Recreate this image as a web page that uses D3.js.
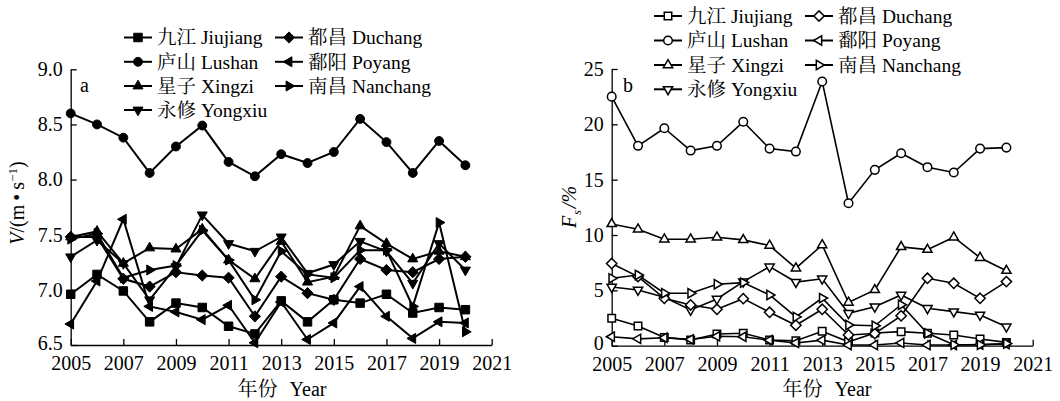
<!DOCTYPE html>
<html>
<head>
<meta charset="utf-8">
<script src="https://cdn.jsdelivr.net/npm/d3@7"></script>
<style>
  body { margin: 0; background: #fff; }
  svg text { font-family: "Liberation Serif", "Times New Roman", "Noto Serif CJK SC", "Noto Sans CJK SC", serif; fill: #000; }
</style>
</head>
<body>
<svg id="chart" width="1060" height="401"></svg>
<script>
// Years observed
const years = [2005, 2006, 2007, 2008, 2009, 2010, 2011, 2012, 2013, 2014, 2015, 2016, 2017, 2018, 2019, 2020];

// Stations and their marker shapes
const stations = ["九江 Jiujiang", "庐山 Lushan", "星子 Xingzi", "永修 Yongxiu", "都昌 Duchang", "鄱阳 Poyang", "南昌 Nanchang"];
const shapes   = ["square", "circle", "up", "down", "diamond", "left", "right"];

// (a) mean wind speed V, m/s
const speedJiujiang = [6.96, 7.14, 6.99, 6.71, 6.88, 6.84, 6.67, 6.60, 6.90, 6.71, 6.91, 6.88, 6.96, 6.79, 6.84, 6.82];
const speedLushan   = [8.60, 8.50, 8.38, 8.06, 8.30, 8.49, 8.16, 8.03, 8.23, 8.15, 8.25, 8.55, 8.34, 8.06, 8.35, 8.13];
const speedXingzi   = [7.48, 7.53, 7.24, 7.38, 7.37, 7.55, 7.27, 7.10, 7.44, 7.07, 7.12, 7.58, 7.42, 7.28, 7.35, 7.30];
const speedYongxiu  = [7.30, 7.45, 7.24, 6.91, 7.21, 7.68, 7.42, 7.35, 7.48, 7.15, 7.23, 7.44, 7.35, 7.06, 7.42, 7.18];
const speedDuchang  = [7.48, 7.48, 7.10, 7.03, 7.16, 7.13, 7.11, 6.76, 7.12, 6.97, 6.91, 7.28, 7.18, 7.16, 7.28, 7.30];
const speedPoyang   = [6.69, 7.08, 7.64, 6.85, 6.80, 6.73, 6.86, 6.52, 6.89, 6.55, 6.70, 7.03, 6.76, 6.56, 6.71, 6.70];
const speedNanchang = [7.46, 7.51, 7.11, 7.18, 7.22, 7.54, 7.27, 6.91, 7.35, 7.14, 7.11, 7.36, 7.36, 6.85, 7.61, 6.62];

// (b) frequency of strong wind Fs, %
const fsJiujiang = [2.48, 1.78, 0.75, 0.52, 1.06, 1.12, 0.52, 0.45, 1.30, 0.35, 1.15, 1.27, 1.12, 0.97, 0.60, 0.30];
const fsLushan   = [22.5, 18.06, 19.65, 17.63, 18.06, 20.23, 17.81, 17.54, 23.87, 12.87, 15.89, 17.39, 16.13, 15.65, 17.81, 17.90];
const fsXingzi   = [11.0, 10.52, 9.62, 9.62, 9.80, 9.56, 9.05, 7.0, 9.10, 3.90, 5.04, 8.93, 8.68, 9.80, 7.95, 6.78];
const fsYongxiu  = [5.30, 5.04, 4.37, 3.23, 4.22, 5.79, 7.14, 5.75, 6.05, 2.93, 3.52, 4.58, 3.38, 3.08, 2.78, 1.72];
const fsDuchang  = [7.42, 6.24, 4.28, 3.68, 3.29, 4.25, 3.02, 1.85, 3.29, 0.97, 1.10, 2.70, 6.09, 5.64, 4.28, 5.79];
const fsPoyang   = [0.81, 0.62, 0.72, 0.57, 0.85, 0.81, 0.50, 0.25, 0.50, 0.06, 0.06, 0.25, 0.06, 0.06, 0.10, 0.15];
const fsNanchang = [6.09, 6.39, 4.74, 4.74, 5.55, 5.70, 4.58, 2.60, 4.30, 1.87, 1.80, 3.70, 1.12, 0.08, 0.08, 0.20];

const speedSeries = [speedJiujiang, speedLushan, speedXingzi, speedYongxiu, speedDuchang, speedPoyang, speedNanchang];
const fsSeries    = [fsJiujiang, fsLushan, fsXingzi, fsYongxiu, fsDuchang, fsPoyang, fsNanchang];

// Axis ticks
const xTicks = [2005, 2007, 2009, 2011, 2013, 2015, 2017, 2019, 2021];
const speedTicks = [6.5, 7.0, 7.5, 8.0, 8.5, 9.0];
const fsTicks = [0, 5, 10, 15, 20, 25];

const FONT = 20;
const svg = d3.select("#chart");

// Marker paths centred on the origin
function markerPath(shape, filled) {
  const s = filled ? 1 : 0.92;
  switch (shape) {
    case "square":  return d3.symbol(d3.symbolSquare, (filled ? 72 : 56))();
    case "circle":  return d3.symbol(d3.symbolCircle, (filled ? 62 : 58))();
    case "diamond": { const r = 5.6 * s; return `M0,${-r}L${r},0L0,${r}L${-r},0Z`; }
    default: {
      const a = 5.8 * s;                // circumradius of triangle
      const pts = [[0, -a], [a * 0.866, a * 0.5], [-a * 0.866, a * 0.5]];
      const rot = { up: 0, right: 90, down: 180, left: 270 }[shape] * Math.PI / 180;
      return "M" + pts.map(([x, y]) => [x * Math.cos(rot) - y * Math.sin(rot), x * Math.sin(rot) + y * Math.cos(rot)].map(v => v.toFixed(2)).join(",")).join("L") + "Z";
    }
  }
}

function drawPanel(cfg) {
  const x = d3.scaleLinear().domain([2005, 2021]).range([cfg.left, cfg.right]);
  const y = d3.scaleLinear().domain(cfg.yDomain).range([cfg.bottom, cfg.top]);
  const g = svg.append("g");

  // x axis, ticks pointing inward
  const xAxis = d3.axisBottom(x).tickValues(xTicks).tickFormat(d3.format("d"))
    .tickSizeInner(-6).tickSizeOuter(0).tickPadding(11);
  const gx = g.append("g").attr("transform", `translate(0,${cfg.bottom})`).call(xAxis);
  gx.selectAll("text").attr("font-size", FONT);
  gx.selectAll("path,line").attr("stroke", "#000").attr("stroke-width", 1.3);

  // y axis, ticks pointing inward; the lowest label sits a touch higher to clear the year labels
  const yAxis = d3.axisLeft(y).tickValues(cfg.yTicks).tickFormat(cfg.yFormat)
    .tickSizeInner(-6).tickSizeOuter(0).tickPadding(8);
  const gy = g.append("g").attr("transform", `translate(${cfg.left},0)`).call(yAxis);
  gy.selectAll("text").attr("font-size", FONT)
    .attr("dy", (d, i) => i === 0 ? "0.2em" : "0.32em");
  gy.selectAll("path,line").attr("stroke", "#000").attr("stroke-width", 1.3);

  // series lines + markers
  const line = d3.line().x((d, i) => x(years[i])).y(d => y(d));
  cfg.series.forEach((vals) => {
    g.append("path").datum(vals).attr("d", line)
      .attr("fill", "none").attr("stroke", "#000").attr("stroke-width", cfg.filled ? 2 : 1.6)
      .attr("stroke-linejoin", "miter");
  });
  cfg.series.forEach((vals, k) => {
    g.append("g").selectAll("path").data(vals).join("path")
      .attr("d", markerPath(shapes[k], cfg.filled))
      .attr("transform", (d, i) => `translate(${x(years[i])},${y(d)})`)
      .attr("fill", cfg.filled ? "#000" : "#fff")
      .attr("stroke", "#000").attr("stroke-width", cfg.filled ? 1 : 1.5);
  });

  // legend: two columns
  stations.forEach((name, k) => {
    const col = k < 4 ? 0 : 1;
    const row = k < 4 ? k : k - 4;
    const lg = g.append("g").attr("transform", `translate(${cfg.legendX[col]},${cfg.legendY[row]})`);
    lg.append("line").attr("x1", 0).attr("x2", 28).attr("y1", 0).attr("y2", 0)
      .attr("stroke", "#000").attr("stroke-width", 2);
    lg.append("path").attr("d", markerPath(shapes[k], cfg.filled))
      .attr("transform", "translate(14,0)")
      .attr("fill", cfg.filled ? "#000" : "#fff").attr("stroke", "#000")
      .attr("stroke-width", cfg.filled ? 1 : 1.5);
    lg.append("text").attr("x", 33).attr("y", 0).attr("dy", "0.35em")
      .attr("font-size", 19.5).text(name);
  });

  // panel letter
  g.append("text").attr("x", cfg.letterX).attr("y", 92).attr("font-size", FONT).text(cfg.letter);

  // x title
  g.append("text").attr("x", cfg.xTitleX).attr("y", 396)
    .attr("text-anchor", "middle").attr("font-size", 20).attr("word-spacing", 7).text("年份 Year");

  return g;
}

drawPanel({
  left: 70.7, right: 491.7, top: 69.3, bottom: 345,
  yDomain: [6.5, 9.0], yTicks: speedTicks, yFormat: d3.format(".1f"),
  series: speedSeries, filled: true,
  legendX: [124, 275], legendY: [37.5, 61.8, 86, 110],
  letter: "a", letterX: 80, xTitleX: 282
});

drawPanel({
  left: 611.7, right: 1032.7, top: 69, bottom: 345.7,
  yDomain: [0, 25], yTicks: fsTicks, yFormat: d3.format("d"),
  series: fsSeries, filled: false,
  legendX: [654, 805], legendY: [16, 40.5, 65, 89.3],
  letter: "b", letterX: 623, xTitleX: 827
});

// y titles
const t1 = svg.append("text").attr("transform", "translate(24,203) rotate(-90)")
  .attr("text-anchor", "middle").attr("font-size", FONT);
t1.append("tspan").attr("font-style", "italic").text("V");
t1.append("tspan").text("/(m\u2009\u2022\u2009s");
t1.append("tspan").attr("font-size", 13).attr("dy", -7).text("\u22121");
t1.append("tspan").attr("dy", 7).text(")");

const t2 = svg.append("text").attr("transform", "translate(576,207) rotate(-90)")
  .attr("text-anchor", "middle").attr("font-size", FONT).attr("font-style", "italic");
t2.append("tspan").text("F");
t2.append("tspan").attr("font-size", 12).attr("dy", 5).attr("dx", 1).text("s");
t2.append("tspan").attr("dy", -5).attr("dx", 2).text("/%");
</script>
</body>
</html>
